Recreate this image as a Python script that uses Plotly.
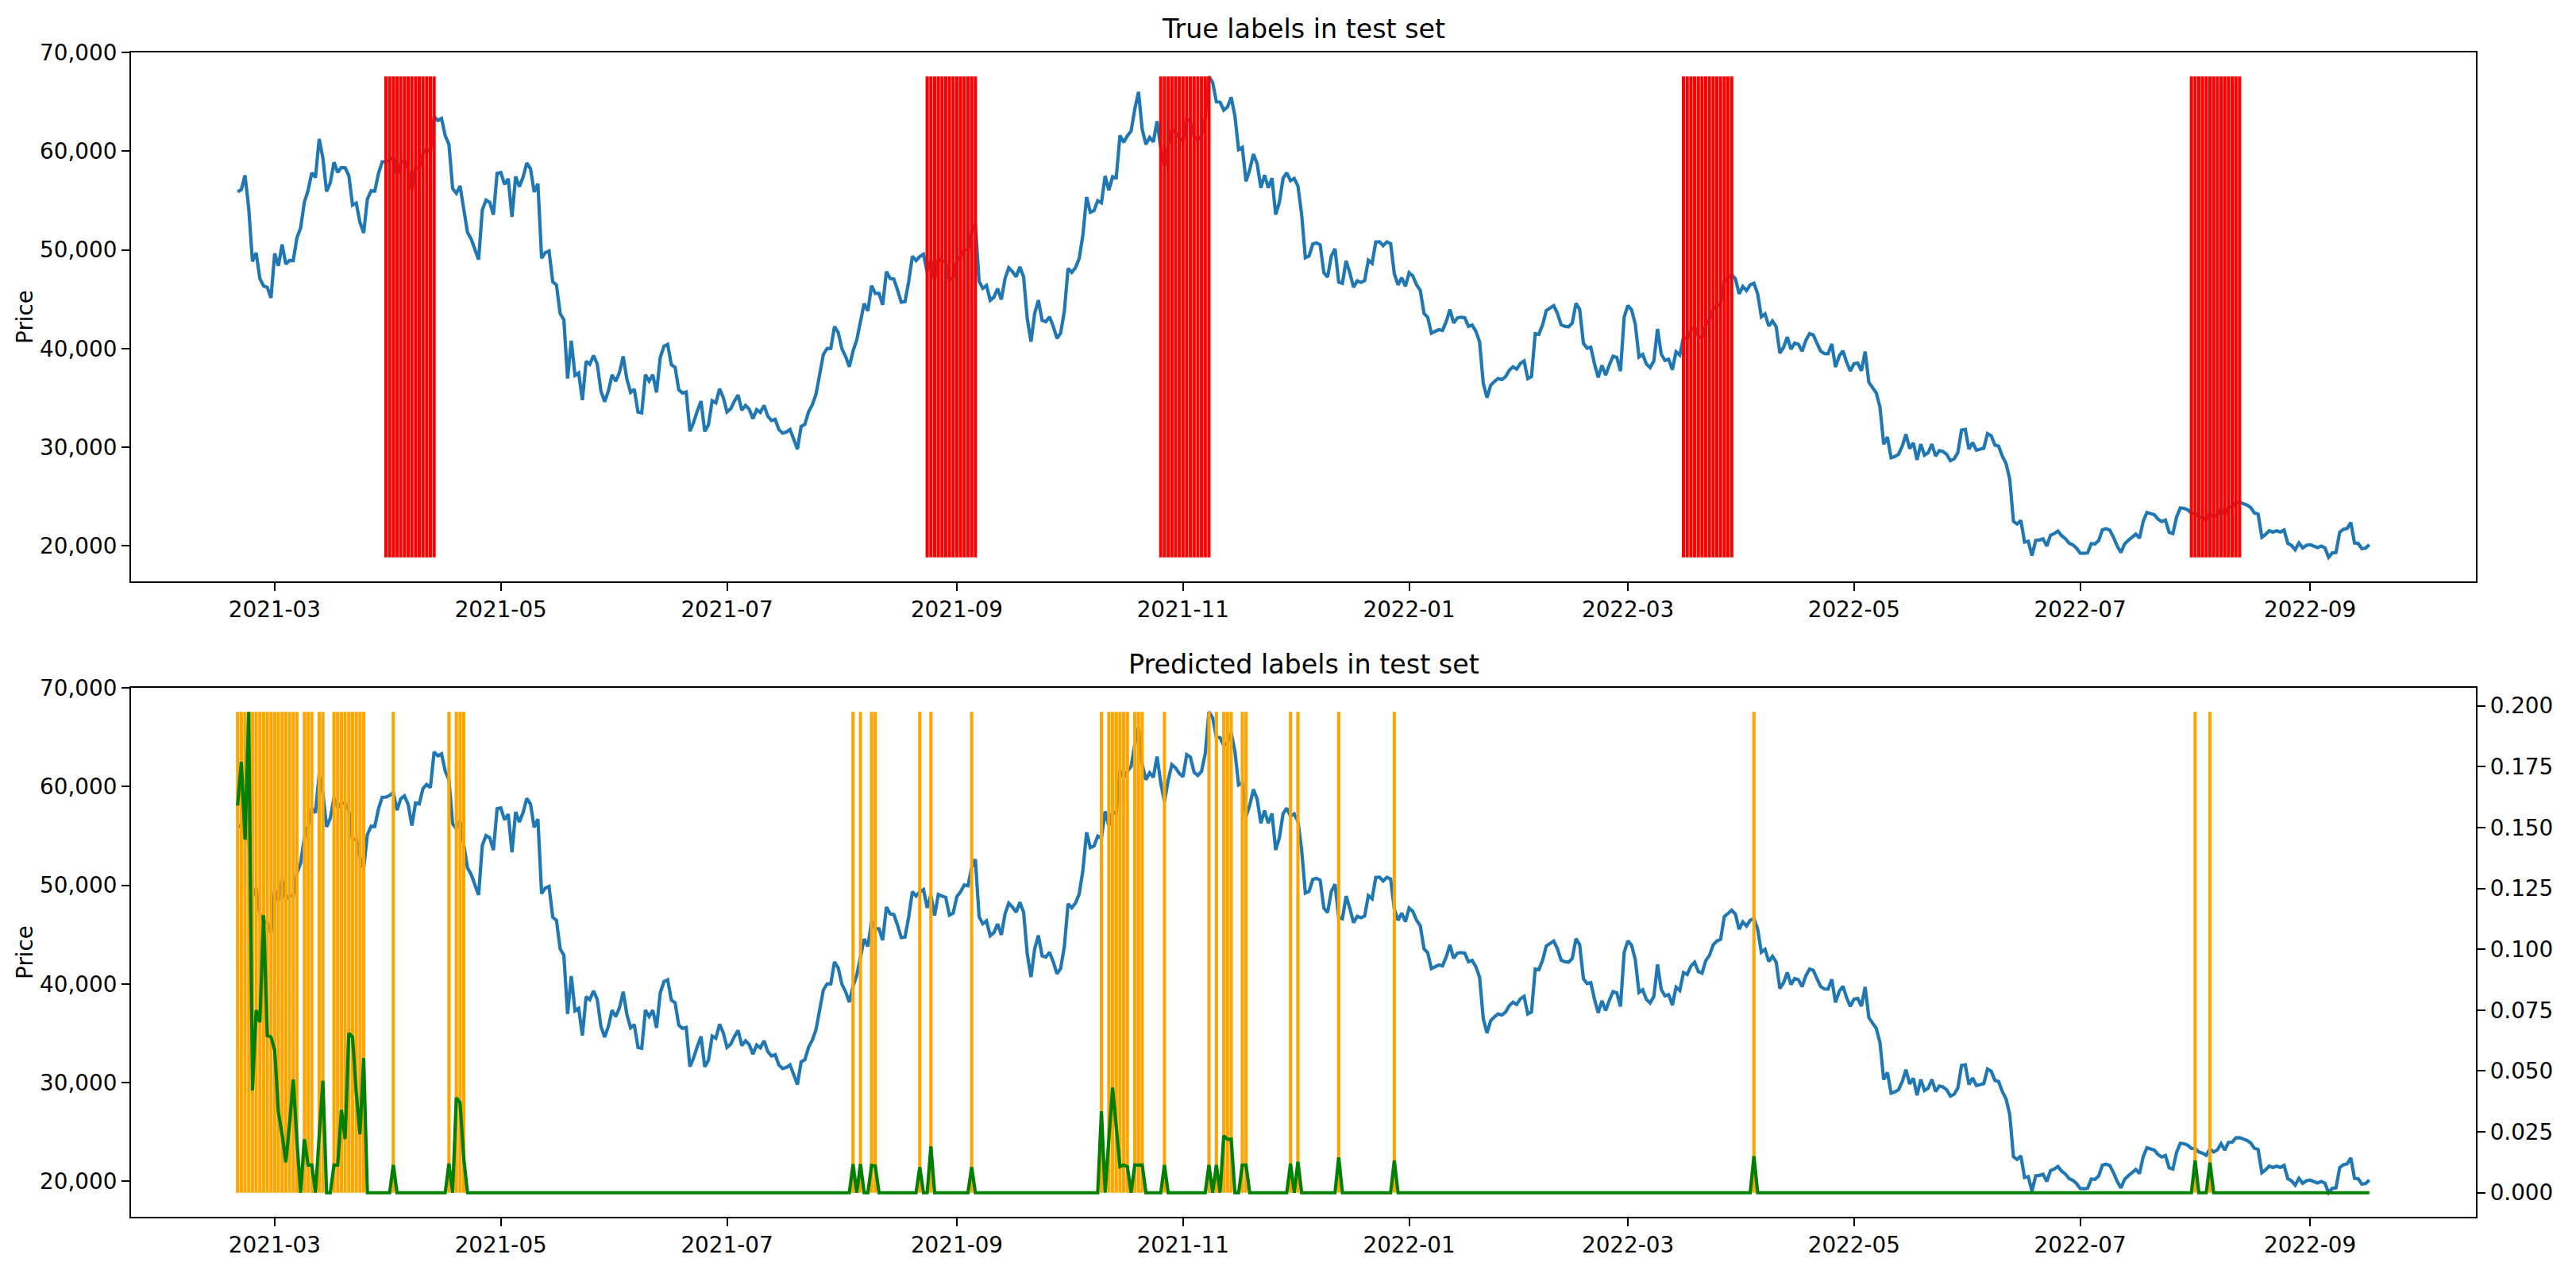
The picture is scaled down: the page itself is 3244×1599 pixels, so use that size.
import pandas as pd
import plotly.graph_objects as go

# ---------------- data ----------------
start_date = "2021-02-19"

close_2021_02 = [55888, 56099, 57539, 54207, 48824, 49705, 47093, 46339, 46188, 45137]
close_2021_03 = [49631, 48378, 50538, 48561, 48927, 48912, 51206, 52246, 54824, 56008, 57805, 57332,
                 61243, 59302, 55907, 56804, 58870, 57858, 58346, 58313, 57523, 54529, 54738, 52774,
                 51704, 55137, 55974, 55947, 57750, 58918, 58918]
close_2021_04 = [59095, 59384, 57603, 58758, 59057, 58192, 56048, 58323, 58245, 59793, 60204, 59893,
                 63503, 63109, 63315, 61572, 60683, 56216, 55724, 56473, 53906, 51762, 51093, 50050,
                 49004, 54021, 55033, 54824, 53555, 57750]
close_2021_05 = [57828, 56631, 57200, 53333, 57424, 56396, 57356, 58803, 58232, 55859, 56704, 49150,
                 49716, 49880, 46760, 46456, 43537, 42909, 36964, 40784, 37281, 37528, 34770, 38705,
                 38403, 39294, 38437, 35698, 34616, 35678, 37333]
close_2021_06 = [36685, 37575, 39208, 36894, 35551, 35862, 33560, 33472, 37345, 36702, 37334, 35552,
                 39097, 40218, 40407, 38348, 38092, 35820, 35484, 35600, 31608, 32509, 33678, 34663,
                 31594, 32276, 34700, 34494, 35911, 35045]
close_2021_07 = [33572, 33897, 34668, 35287, 33746, 34235, 33855, 32877, 33798, 33520, 34240, 33155,
                 32702, 32822, 31781, 31421, 31533, 31796, 30817, 29807, 32110, 32314, 33581, 34292,
                 35350, 37337, 39406, 39995, 40008, 42236, 41626]
close_2021_08 = [39975, 39202, 38153, 39747, 40870, 42816, 44556, 43800, 46366, 45586, 45594, 44429,
                 47794, 47097, 47038, 45937, 44696, 44742, 46757, 49340, 48905, 49321, 49546, 47707,
                 48993, 46943, 49058, 48896, 48768, 46970, 47166]
close_2021_09 = [48847, 49327, 50025, 49944, 51753, 52633, 46811, 46091, 46391, 44883, 45201, 46063,
                 44963, 47092, 48176, 47783, 47267, 48278, 47260, 43009, 40694, 43574, 44896, 42840,
                 42716, 43208, 42236, 41034, 41564, 43790]
close_2021_10 = [48116, 47711, 48199, 49112, 51515, 55362, 53805, 53967, 54968, 54771, 57484, 56041,
                 57401, 57321, 61593, 60892, 61553, 62026, 64262, 65993, 62210, 60693, 61393, 60931,
                 63040, 60363, 58483, 60622, 62228, 61889, 61319]
close_2021_11 = [61005, 63227, 62970, 61452, 61125, 61528, 63327, 67566, 66971, 64995, 64950, 64155,
                 64469, 65466, 63557, 60162, 60369, 56942, 58120, 59698, 58730, 56289, 57570, 56280,
                 57274, 53570, 54816, 57248, 57806, 57005]
close_2021_12 = [57229, 56478, 53598, 49201, 49369, 50583, 50700, 50505, 47672, 47243, 49363, 50098,
                 46737, 46613, 48897, 47665, 46202, 46849, 46707, 46880, 48937, 48629, 50785, 50822,
                 50430, 50810, 50640, 47589, 46445, 47178, 46306]
close_2022_01 = [47687, 47345, 46458, 45898, 43569, 43161, 41558, 41734, 41912, 41821, 42736, 43949,
                 42592, 43100, 43177, 43114, 42251, 42376, 41744, 40680, 36457, 35030, 36277, 36654,
                 36954, 36852, 37138, 37784, 38138, 37918, 38483]
close_2022_02 = [38743, 36953, 37155, 41501, 41441, 42412, 43840, 44118, 44339, 43565, 42408, 42244,
                 42198, 42587, 44575, 43962, 40538, 40031, 40122, 38431, 37075, 38286, 37297, 38333,
                 39214, 39105, 37710, 43193]
close_2022_03 = [44355, 43924, 42452, 39138, 39401, 38420, 38062, 38737, 41983, 39437, 38795, 38904,
                 37850, 39667, 39339, 41144, 40951, 41801, 42191, 41248, 41077, 42359, 42893, 43961,
                 44349, 44501, 46820, 47128, 47466, 47063, 45539]
close_2022_04 = [46282, 45869, 46454, 46623, 45556, 43207, 43504, 42288, 42782, 42208, 39522, 40127,
                 41167, 39936, 40553, 40424, 39717, 40826, 41503, 41374, 40527, 39740, 39487, 39469,
                 40458, 38117, 39241, 39774, 38610, 37715]
close_2022_05 = [38469, 38529, 37750, 39698, 36575, 36041, 35502, 34059, 30297, 31023, 28936, 29048,
                 29283, 30101, 31305, 29863, 30426, 28720, 30314, 29201, 29432, 30324, 29099, 29656,
                 29562, 29267, 28628, 28815, 29446, 31726, 31792]
close_2022_06 = [29799, 30467, 29704, 29833, 29907, 31371, 31155, 30214, 30111, 29084, 28361, 26763,
                 22487, 22207, 22573, 20382, 20471, 19018, 20553, 20600, 20711, 19987, 21086, 21232,
                 21502, 21027, 20735, 20281, 20104, 19785]
close_2022_07 = [19269, 19242, 19297, 20231, 20190, 20548, 21638, 21731, 21592, 20860, 19971, 19324,
                 20212, 20570, 20836, 21190, 20779, 22486, 23389, 23232, 23165, 22715, 22465, 22609,
                 21362, 21240, 22931, 23844, 23805, 23656, 23337]
close_2022_08 = [23314, 22978, 22847, 22631, 23289, 22961, 23176, 23809, 23164, 23948, 23958, 24403,
                 24424, 24319, 24137, 23883, 23335, 23213, 20878, 21166, 21534, 21399, 21528, 21395,
                 21601, 20260, 20042, 19617, 20298, 19797, 20050]
close_2022_09 = [20127, 19970, 19832, 19987, 19812, 18838, 19290, 19330, 21381, 21681, 21769, 22370,
                 20297, 20241, 19701, 19773, 20128]

# true label windows (first day, last day), one label per day inside each window
true_label_windows = [("2021-03-31", "2021-04-13"), ("2021-08-24", "2021-09-06"),
                      ("2021-10-26", "2021-11-08"), ("2022-03-16", "2022-03-29"),
                      ("2022-07-31", "2022-08-13")]

# predicted labels and the predicted probability on those days (0 on all other days)
pred_dates = ["2021-02-19", "2021-02-20", "2021-02-21", "2021-02-22", "2021-02-23", "2021-02-24",
              "2021-02-25", "2021-02-26", "2021-02-27", "2021-02-28", "2021-03-01", "2021-03-02",
              "2021-03-03", "2021-03-04", "2021-03-05", "2021-03-06", "2021-03-07", "2021-03-09",
              "2021-03-10", "2021-03-11", "2021-03-13", "2021-03-14", "2021-03-17", "2021-03-18",
              "2021-03-19", "2021-03-20", "2021-03-21", "2021-03-22", "2021-03-23", "2021-03-24",
              "2021-03-25", "2021-04-02", "2021-04-17", "2021-04-19", "2021-04-20", "2021-04-21",
              "2021-08-04", "2021-08-06", "2021-08-09", "2021-08-10", "2021-08-22", "2021-08-25",
              "2021-09-05", "2021-10-10", "2021-10-12", "2021-10-13", "2021-10-14", "2021-10-15",
              "2021-10-16", "2021-10-17", "2021-10-19", "2021-10-20", "2021-10-21", "2021-10-27",
              "2021-11-08", "2021-11-10", "2021-11-12", "2021-11-13", "2021-11-14", "2021-11-17",
              "2021-11-18", "2021-11-30", "2021-12-02", "2021-12-13", "2021-12-28", "2022-04-04",
              "2022-08-01", "2022-08-05"]
pred_probs = [0.159, 0.177, 0.145, 0.1975, 0.042, 0.075,
              0.070, 0.114, 0.0645, 0.064, 0.0585, 0.033,
              0.024, 0.0125, 0.028, 0.0465, 0.021, 0.022,
              0.0114, 0.0114, 0.023, 0.046, 0.0114, 0.0114,
              0.034, 0.022, 0.0655, 0.064, 0.041, 0.024,
              0.0553, 0.0114, 0.012, 0.039, 0.037, 0.014,
              0.0117, 0.0117, 0.0112, 0.011, 0.0105, 0.019,
              0.0105, 0.0335, 0.022, 0.0432, 0.027, 0.0107,
              0.0114, 0.0107, 0.0114, 0.0114, 0.0114, 0.0114,
              0.0114, 0.0114, 0.0234, 0.022, 0.022, 0.0114,
              0.0114, 0.012, 0.0127, 0.0145, 0.0132, 0.015,
              0.0132, 0.0124]

# ---------------- assemble ----------------
monthly = [close_2021_02, close_2021_03, close_2021_04, close_2021_05, close_2021_06, close_2021_07,
           close_2021_08, close_2021_09, close_2021_10, close_2021_11, close_2021_12, close_2022_01,
           close_2022_02, close_2022_03, close_2022_04, close_2022_05, close_2022_06, close_2022_07,
           close_2022_08, close_2022_09]
close = [v for m in monthly for v in m]
dates = pd.date_range(start_date, periods=len(close), freq="D")
price = pd.Series(close, index=dates)

prob = pd.Series(0.0, index=dates)
prob.loc[pd.to_datetime(pred_dates)] = pred_probs

true_dates = [d for s, e in true_label_windows for d in pd.date_range(s, e, freq="D")]

pmin, pmax = price.min(), price.max()


def vlines(xs, y0, y1):
    X, Y = [], []
    for x in xs:
        X += [x, x, None]
        Y += [y0, y1, None]
    return X, Y


FONT = "DejaVu Sans"
TICK = 27.8
BLACK = "#000000"

fig = go.Figure()
# top: price + true labels
fig.add_trace(go.Scatter(x=price.index, y=price.values, mode="lines",
                         line=dict(color="#1f77b4", width=4.2), xaxis="x", yaxis="y",
                         showlegend=False))
vx, vy = vlines(true_dates, pmin, pmax)
fig.add_trace(go.Scatter(x=vx, y=vy, mode="lines", line=dict(color="red", width=4.1),
                         xaxis="x", yaxis="y", showlegend=False))
# bottom: price + predicted labels + probability
fig.add_trace(go.Scatter(x=price.index, y=price.values, mode="lines",
                         line=dict(color="#1f77b4", width=4.2), xaxis="x2", yaxis="y2",
                         showlegend=False))
ox, oy = vlines(pd.to_datetime(pred_dates), pmin, pmax)
fig.add_trace(go.Scatter(x=ox, y=oy, mode="lines", line=dict(color="orange", width=4.1),
                         xaxis="x2", yaxis="y2", showlegend=False))
fig.add_trace(go.Scatter(x=prob.index, y=prob.values, mode="lines",
                         line=dict(color="green", width=4.2), xaxis="x2", yaxis="y3",
                         showlegend=False))

span = dates[-1] - dates[0]
xr = [dates[0] - span * 0.05, dates[-1] + span * 0.05]
pr = [pmin - 0.05 * (pmax - pmin), pmax + 0.05 * (pmax - pmin)]
qmin, qmax = prob.min(), prob.max()
qr = [qmin - 0.05 * (qmax - qmin), qmax + 0.05 * (qmax - qmin)]

axis_common = dict(showline=True, linecolor=BLACK, linewidth=2.2, mirror=True,
                   ticks="outside", ticklen=10, tickwidth=2.2, tickcolor=BLACK,
                   showgrid=False, zeroline=False, automargin=False,
                   tickfont=dict(family=FONT, size=TICK, color=BLACK))
xcommon = dict(axis_common, type="date", range=xr, tick0="2021-03-01", dtick="M2",
               tickformat="%Y-%m")

top_dom = [0.5457, 1.0]
bot_dom = [0.0, 0.4543]

fig.update_layout(
    width=3236, height=1591,
    margin=dict(l=157, r=126, t=58, b=67),
    paper_bgcolor="white", plot_bgcolor="white",
    font=dict(family=FONT, color=BLACK),
    xaxis=dict(xcommon, domain=[0, 1], anchor="y"),
    xaxis2=dict(xcommon, domain=[0, 1], anchor="y2"),
    yaxis=dict(axis_common, domain=top_dom, anchor="x", range=pr, tickformat=",d",
               dtick=10000, tick0=0,
               title=dict(text="Price", font=dict(family=FONT, size=TICK, color=BLACK),
                          standoff=0)),
    yaxis2=dict(axis_common, domain=bot_dom, anchor="x2", range=pr, tickformat=",d",
                dtick=10000, tick0=0,
                title=dict(text="Price", font=dict(family=FONT, size=TICK, color=BLACK),
                           standoff=0)),
    yaxis3=dict(axis_common, overlaying="y2", side="right", anchor="x2", range=qr,
                tickformat=".3f", dtick=0.025, tick0=0, mirror=False),
    annotations=[
        dict(text="True labels in test set", x=0.5, xref="x domain", y=1, yref="y domain",
             xanchor="center", yanchor="bottom", yshift=8, showarrow=False,
             font=dict(family=FONT, size=33.3, color=BLACK)),
        dict(text="Predicted labels in test set", x=0.5, xref="x2 domain", y=1,
             yref="y2 domain", xanchor="center", yanchor="bottom", yshift=8, showarrow=False,
             font=dict(family=FONT, size=33.3, color=BLACK)),
    ],
)

fig.write_html("out.html")
